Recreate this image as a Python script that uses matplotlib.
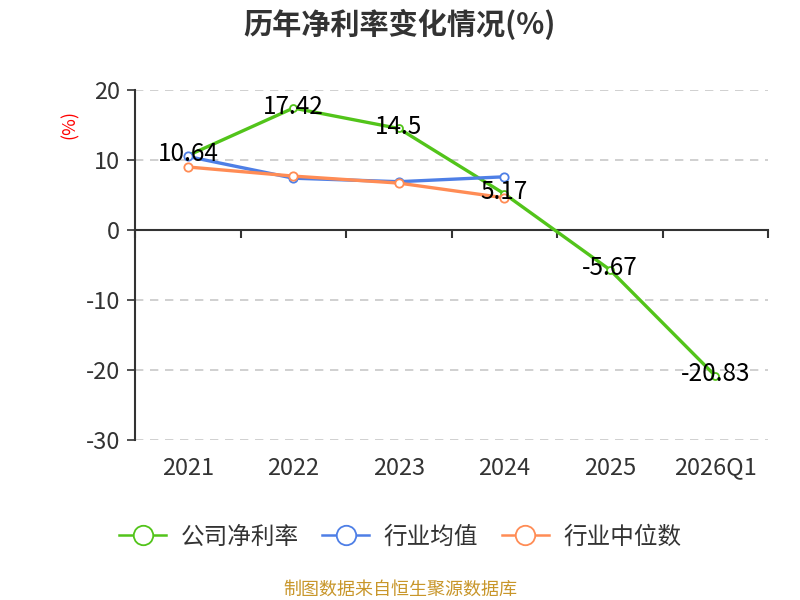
import matplotlib
matplotlib.use('Agg')
import matplotlib.pyplot as plt

plt.rcParams['font.family'] = ['Noto Sans CJK SC', 'DejaVu Sans']

# ============================== 数据 ==============================
years = ['2021', '2022', '2023', '2024', '2025', '2026Q1']
company = [10.64, 17.42, 14.5, 5.17, -5.67, -20.83]
industry_avg = [10.5, 7.4, 6.9, 7.6]
industry_median = [9.0, 7.7, 6.7, 4.6]
y_ticks = [20, 10, 0, -10, -20, -30]

series_names = ['公司净利率', '行业均值', '行业中位数']
colors = ['#52C41A', '#4E7FE6', '#FF8C55']

# ============================== 绘图 ==============================
fig = plt.figure(figsize=(8, 6), dpi=100)
ax = fig.add_axes([0.169, 0.2667, 0.791, 0.5833])

x_all = list(range(len(years)))
x_ind = list(range(len(industry_avg)))

ax.plot(x_all, company, color=colors[0], lw=2.4, marker='o', ms=5,
        mfc='white', mec=colors[0], mew=1.3, label=series_names[0], zorder=3)
ax.plot(x_ind, industry_avg, color=colors[1], lw=2.4, marker='o', ms=6,
        mfc='white', mec=colors[1], mew=1.3, label=series_names[1], zorder=4)
ax.plot(x_ind, industry_median, color=colors[2], lw=2.4, marker='o', ms=6,
        mfc='white', mec=colors[2], mew=1.3, label=series_names[2], zorder=5)

# 数据标注
for xi, v in zip(x_all, company):
    ax.annotate(f'{v:g}', (xi, v), xytext=(0, 1), textcoords='offset points',
                ha='center', va='center', fontsize=17.5, color='black', zorder=6)

ax.set_xlim(-0.5, len(years) - 0.5)
ax.set_ylim(-30, 20)
ax.set_yticks(y_ticks)
ax.set_yticklabels([str(t) for t in y_ticks], fontsize=17, color='#333333')
ax.tick_params(axis='y', length=6, width=1.2, color='#333333', pad=5)

# 网格（0 处为坐标轴）
for t in y_ticks:
    if t != 0:
        ax.axhline(t, color='#c8c8c8', lw=1.2, ls=(0, (5, 4)), zorder=1)

ax.set_xticks(x_all)
ax.set_xticklabels(years, fontsize=17, color='#333333')
ax.tick_params(axis='x', length=0, pad=12)

for s in ['top', 'right', 'bottom']:
    ax.spines[s].set_visible(False)
ax.spines['left'].set_color('#333333')
ax.spines['left'].set_linewidth(1.5)

# 0 处的 x 轴
sec = ax.secondary_xaxis(0, transform=ax.transData)
sec.set_xticks([i - 0.5 for i in range(len(years) + 1)])
sec.set_xticklabels([])
sec.tick_params(axis='x', length=6, width=1.5, color='#333333', direction='out')
sec.spines['bottom'].set_color('#333333')
sec.spines['bottom'].set_linewidth(1.5)

ax.text(-0.103, 0.9, '(%)', transform=ax.transAxes, rotation=90, color='red',
        fontsize=13, ha='center', va='center')

fig.text(0.5, 0.96, '历年净利率变化情况(%)', ha='center', va='center',
         fontsize=21, fontweight='bold', color='#333333')

leg = fig.legend(loc='center', bbox_to_anchor=(0.5, 0.105), ncol=3, frameon=False,
                 fontsize=17, handlelength=2.0, columnspacing=1.0, handletextpad=0.6)
for t in leg.get_texts():
    t.set_color('#333333')
for h in leg.legend_handles:
    h.set_markersize(14)
    h.set_linewidth(1.8)

fig.text(0.5, 0.017, '制图数据来自恒生聚源数据库', ha='center', va='center',
         fontsize=13, color='#C8962A')

fig.savefig('out.png', dpi=100)
plt.close(fig)
